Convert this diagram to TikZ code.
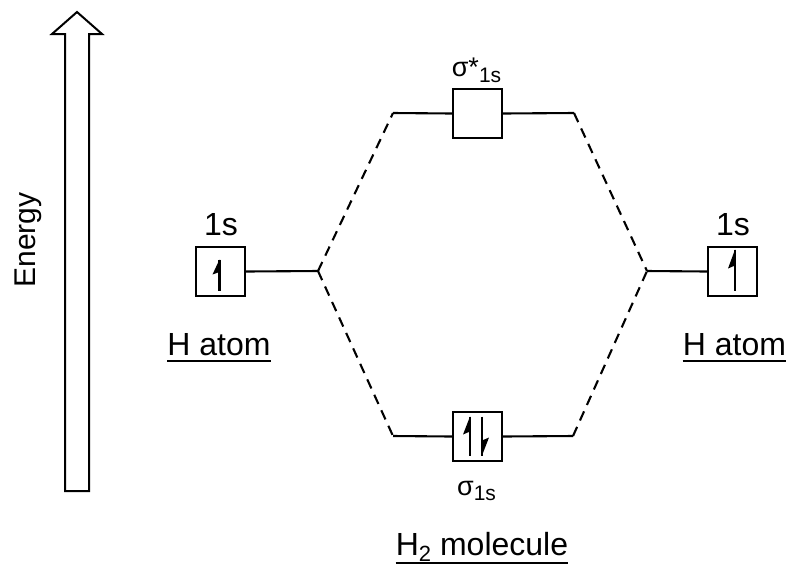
\documentclass[tikz,border=0pt]{standalone}
\usepackage{fontspec}
\setmainfont{Liberation Sans}
\begin{document}
\begin{tikzpicture}[x=1pt,y=-1pt,
  orb/.style={draw,line width=2.1pt,minimum size=49pt,inner sep=0pt},
  lvl/.style={line width=2.1pt},
  dsh/.style={line width=2.1pt,dash pattern=on 10pt off 7pt},
  lbl/.style={inner sep=0pt,anchor=base,font=\fontsize{32}{36}\selectfont},
  sig/.style={inner sep=0pt,anchor=base,font=\fontsize{27}{30}\selectfont},
  harp/.style={line width=2.6pt},
  ul/.style={line width=2pt}]
\useasboundingbox (0,0) rectangle (791,566);
% energy arrow
\draw[line width=2pt,fill=white] (65,491) -- (65,34) -- (52,34) -- (77,12) -- (102,34) -- (89,34) -- (89,491) -- cycle;
\node[rotate=90,inner sep=0pt,font=\fontsize{30}{34}\selectfont] (energy) at (28,240) {Energy};
% orbitals
\node[orb] (la) at (220.5,271.5) {};
\node[orb] (ra) at (732.5,271.5) {};
\node[orb] (ss) at (477.5,113.5) {};
\node[orb] (sb) at (477.5,436.5) {};
% harpoons
\draw[harp] ([xshift=-1pt,yshift=12pt]la.center) -- ([xshift=-1pt,yshift=-19pt]la.center);
\fill ([xshift=-1pt,yshift=12pt]la.center) -- ++(-7,15) -- ++(7,-2.5) -- cycle;
\draw[harp] ([xshift=2.5pt,yshift=22pt]ra.center) -- ([xshift=2.5pt,yshift=-19pt]ra.center);
\fill ([xshift=2.5pt,yshift=22pt]ra.center) -- ++(-7,19) -- ++(7,-3) -- cycle;
\draw[harp] ([xshift=-7.5pt,yshift=20pt]sb.center) -- ([xshift=-7.5pt,yshift=-19pt]sb.center);
\fill ([xshift=-7.5pt,yshift=20pt]sb.center) -- ++(-7,18) -- ++(7,-3) -- cycle;
\draw[harp] ([xshift=4.5pt,yshift=20pt]sb.center) -- ([xshift=4.5pt,yshift=-19pt]sb.center);
\fill ([xshift=4.5pt,yshift=-19pt]sb.center) -- ++(7,-18) -- ++(-7,3) -- cycle;
% junction coordinates
\coordinate (lj) at (318,271);
\coordinate (rj) at (647,271);
\coordinate (tl) at (393,113);
\coordinate (tr) at (574,113);
\coordinate (bl) at (393,436);
\coordinate (br) at (573,436);
% level lines
\draw[lvl] (la.east) -- (lj);
\draw[lvl] (rj) -- (ra.west);
\draw[lvl] (tl) -- (ss.west);
\draw[lvl] (ss.east) -- (tr);
\draw[lvl] (bl) -- (sb.west);
\draw[lvl] (sb.east) -- (br);
% dashed correlation lines
\draw[dsh] (lj) -- (tl);
\draw[dsh] (lj) -- (bl);
\draw[dsh] (tr) -- (rj);
\draw[dsh] (br) -- (rj);
% labels
\node[lbl] (l1s) at (221,235) {1s};
\node[lbl] (r1s) at (733,235) {1s};
\node[lbl] (lh) at (219,355) {H atom};
\node[lbl] (rh) at (734.5,355) {H atom};
\draw[ul] ([yshift=-5.5pt]lh.base west) -- ([yshift=-5.5pt]lh.base east);
\draw[ul] ([yshift=-5.5pt]rh.base west) -- ([yshift=-5.5pt]rh.base east);
\node[sig] (sst) at (476.5,76) {σ*\raisebox{-6pt}{\fontsize{21}{24}\selectfont 1s}};
\node[sig] (sbt) at (476.5,495) {σ\raisebox{-5pt}{\fontsize{21}{24}\selectfont 1s}};
\node[lbl] (h2) at (482,555) {H\raisebox{-6pt}{\fontsize{22}{26}\selectfont 2} molecule};
\draw[ul] ([yshift=-7.5pt]h2.base west) -- ([yshift=-7.5pt]h2.base east);
\end{tikzpicture}
\end{document}
